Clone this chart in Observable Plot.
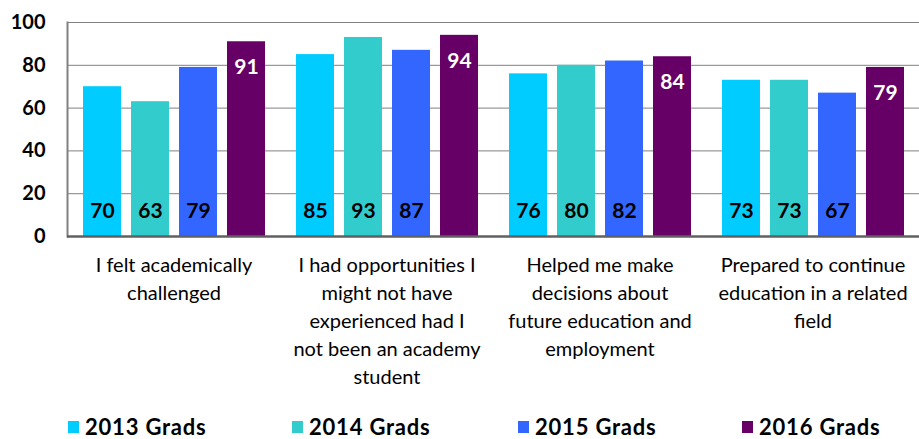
<!DOCTYPE html>
<html>
<head>
<meta charset="utf-8">
<script src="https://cdn.jsdelivr.net/npm/d3@7"></script>
<script src="https://cdn.jsdelivr.net/npm/@observablehq/plot@0.6"></script>
<style>
  html, body { margin: 0; padding: 0; background: #fff; overflow: hidden; }
  #wrap { position: relative; width: 919px; height: 439px; font-family: Lato, "Open Sans", sans-serif; }
  #chart svg { display: block; }
  .leg { position: absolute; top: 420px; height: 14px; line-height: 14px; display: flex; align-items: center; font-weight: 700; font-size: 22px; letter-spacing: 0.8px; color: #000; white-space: nowrap; }
  .leg span.sw { display: inline-block; width: 11px; height: 12px; margin-right: 6px; }
</style>
</head>
<body>
<div id="wrap">
  <div id="chart"></div>
</div>
<script>
const categories = [
  "I felt academically\nchallenged",
  "I had opportunities I\nmight not have\nexperienced had I\nnot been an academy\nstudent",
  "Helped me make\ndecisions about\nfuture education and\nemployment",
  "Prepared to continue\neducation in a related\nfield"
];
const series = ["2013 Grads", "2014 Grads", "2015 Grads", "2016 Grads"];
const values2013 = [70, 85, 76, 73];
const values2014 = [63, 93, 80, 73];
const values2015 = [79, 87, 82, 67];
const values2016 = [91, 94, 84, 79];
const colors = ["#00CCFF", "#33CCCC", "#3366FF", "#660066"];
const yTicks = [0, 20, 40, 60, 80, 100];

const allValues = [values2013, values2014, values2015, values2016];
const rows = [];
categories.forEach((c, i) => {
  series.forEach((s, j) => rows.push({category: c, series: s, value: allValues[j][i]}));
});
const lastSeries = series[series.length - 1];

const chart = Plot.plot({
  width: 919,
  height: 400,
  marginTop: 22,
  marginBottom: 164,
  marginLeft: 67,
  marginRight: 0,
  style: {fontFamily: "Lato, 'Open Sans', sans-serif", background: "#fff", color: "#000"},
  fx: {domain: categories, padding: 0, axis: null},
  x: {domain: series, paddingInner: 0.21, paddingOuter: 0.29, axis: null},
  y: {domain: [0, 100], axis: null},
  color: {domain: series, range: colors},
  marks: [
    Plot.gridY(yTicks.filter(t => t > 0), {stroke: "#808080", strokeOpacity: 1, strokeWidth: 1}),
    Plot.barY(rows, {fx: "category", x: "series", y: "value", fill: "series"}),
    Plot.frame({anchor: "left", facetAnchor: "left", stroke: "#808080", strokeWidth: 2}),
    Plot.ruleY([0], {stroke: "#606060", strokeWidth: 2.5}),
    Plot.text(rows.filter(d => d.series !== lastSeries), {
      fx: "category", x: "series", y: 0, dy: -25, text: d => String(d.value),
      fill: "#000", fontWeight: 700, fontSize: 21
    }),
    Plot.text(rows.filter(d => d.series === lastSeries), {
      fx: "category", x: "series", y: "value", dy: 26, text: d => String(d.value),
      fill: "#fff", fontWeight: 700, fontSize: 21
    }),
    Plot.axisY({ticks: yTicks, tickSize: 0, tickPadding: 22, fontSize: 20, fontWeight: 700, label: null, fill: "#000"}),
    Plot.axisFx({anchor: "bottom", tickSize: 0, tickPadding: 16, fontSize: 20, lineHeight: 1.4, label: null, fill: "#000"})
  ]
});
document.getElementById("chart").appendChild(chart);

const legendLefts = [68, 292, 518, 742];
const wrap = document.getElementById("wrap");
series.forEach((s, i) => {
  const item = document.createElement("div");
  item.className = "leg";
  item.style.left = legendLefts[i] + "px";
  const sw = document.createElement("span");
  sw.className = "sw";
  sw.style.background = colors[i];
  item.appendChild(sw);
  item.appendChild(document.createTextNode(s));
  wrap.appendChild(item);
});
</script>
</body>
</html>
